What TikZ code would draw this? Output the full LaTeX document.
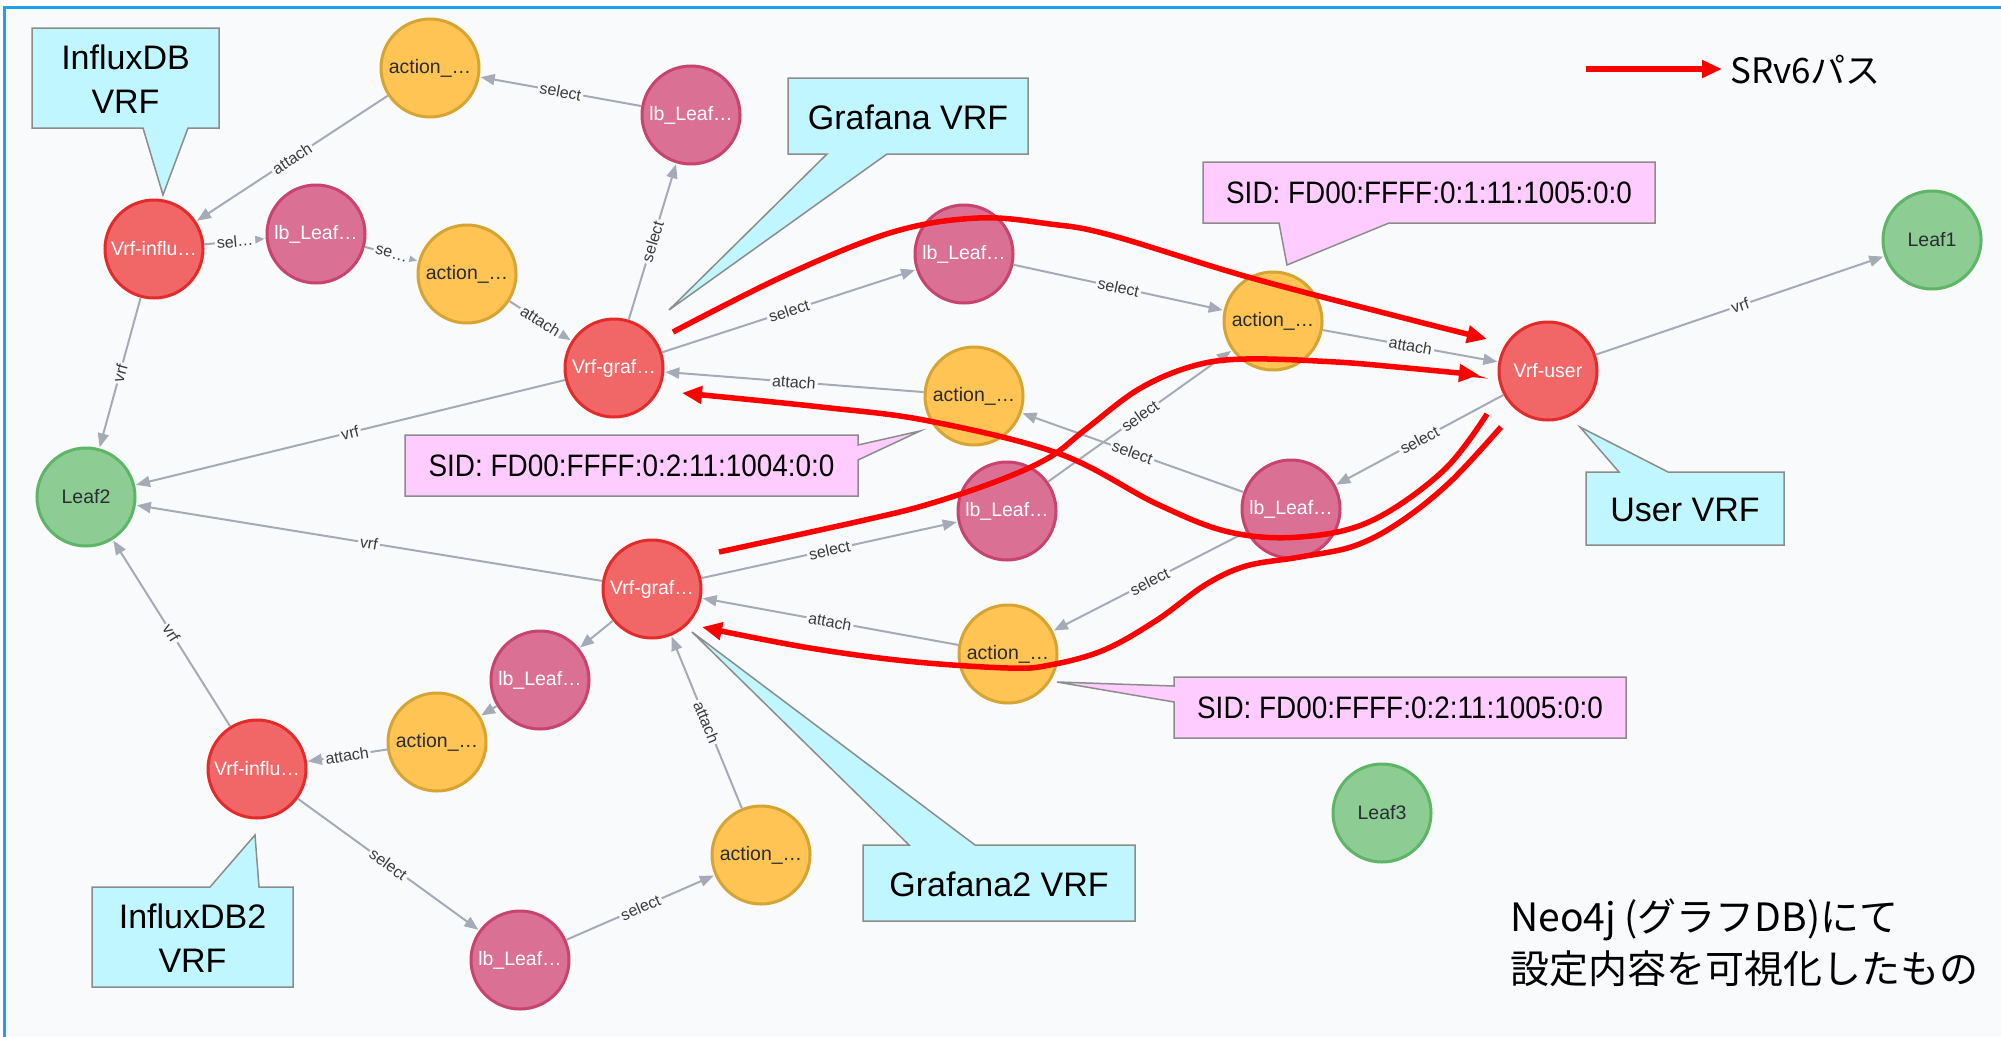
\documentclass[tikz,border=0pt]{standalone}
\usepackage{fontspec}
\setmainfont{Liberation Sans}
\newfontfamily\cjk{Noto Sans CJK JP}
\newfontfamily\sidfont{Liberation Sans}[FakeStretch=0.9]
\usetikzlibrary{arrows.meta}
\definecolor{bgc}{HTML}{F9FAFB}
\definecolor{framec}{HTML}{20A0E8}
\definecolor{actF}{HTML}{FFC454}
\definecolor{actD}{HTML}{D6A432}
\definecolor{lbF}{HTML}{DA7194}
\definecolor{lbD}{HTML}{C9436F}
\definecolor{vrfF}{HTML}{F16667}
\definecolor{vrfD}{HTML}{E52A2A}
\definecolor{leafF}{HTML}{8DCC93}
\definecolor{leafD}{HTML}{5DB665}
\definecolor{edgeC}{HTML}{A5ABB6}
\definecolor{lblC}{HTML}{3A3A3A}
\definecolor{cyanF}{HTML}{C0F6FF}
\definecolor{pinkF}{HTML}{FFCCFF}
\definecolor{boxD}{HTML}{8C8C8C}
\definecolor{darkT}{HTML}{2A2C34}
\tikzset{
  gnode/.style={circle, minimum size=98pt, inner sep=0pt, line width=3pt, font=\fontsize{19.5}{19.5}\selectfont},
  actn/.style={gnode, fill=actF, draw=actD, text=darkT},
  lbn/.style={gnode, fill=lbF, draw=lbD, text=white},
  vrfn/.style={gnode, fill=vrfF, draw=vrfD, text=white},
  leafn/.style={gnode, fill=leafF, draw=leafD, text=darkT},
  edge/.style={draw=edgeC, line width=2pt, -{Triangle[length=14pt,width=11pt]}, shorten >=1pt},
  elbl/.style={midway, sloped, fill=bgc, inner sep=2pt, text=lblC, font=\fontsize{16}{16}\selectfont},
  callC/.style={fill=cyanF, draw=boxD, line width=1.5pt, line join=miter},
  callP/.style={fill=pinkF, draw=boxD, line width=1.5pt, line join=miter},
  ctext/.style={align=center, inner sep=0pt, font=\fontsize{34}{44}\selectfont},
  stext/.style={inner sep=0pt, font=\sidfont\fontsize{31}{31}\selectfont},
  srv6/.style={draw=red, line width=5.5pt, -{Triangle[length=20pt,width=17pt]}},
}
\begin{document}
\begin{tikzpicture}[x=1pt,y=-1pt]
\useasboundingbox (0,0) rectangle (2001,1036);
\fill[white] (0,0) rectangle (2001,1036);
\fill[bgc] (4,7) rectangle (2001,1036);
\draw[framec, line width=3pt] (4,1040) -- (4,7) -- (2005,7);

% nodes
\node[actn] (A1) at (430,68) {action\_…};
\node[lbn] (LB1) at (691,115) {lb\_Leaf…};
\node[vrfn] (VI1) at (154,249) {Vrf-influ…};
\node[lbn] (LB2) at (316,234) {lb\_Leaf…};
\node[actn] (A2) at (467,274) {action\_…};
\node[vrfn] (VG1) at (614,368) {Vrf-graf…};
\node[leafn] (Leaf2) at (86,497) {Leaf2};
\node[lbn] (LB3) at (964,254) {lb\_Leaf…};
\node[actn] (A3) at (1273,321) {action\_…};
\node[vrfn] (VU) at (1548,371) {Vrf-user};
\node[leafn] (Leaf1) at (1932,240) {Leaf1};
\node[actn] (A4) at (974,396) {action\_…};
\node[lbn] (LB4) at (1007,511) {lb\_Leaf…};
\node[lbn] (LB6) at (1291,509) {lb\_Leaf…};
\node[vrfn] (VG2) at (652,589) {Vrf-graf…};
\node[actn] (A5) at (1008,654) {action\_…};
\node[lbn] (LB5) at (540,680) {lb\_Leaf…};
\node[actn] (A6) at (437,742) {action\_…};
\node[vrfn] (VI2) at (257,769) {Vrf-influ…};
\node[actn] (A7) at (761,855) {action\_…};
\node[lbn] (LB7) at (520,960) {lb\_Leaf…};
\node[leafn] (Leaf3) at (1382,813) {Leaf3};

% edges
\draw[edge] (LB1) -- node[elbl]{select} (A1);
\draw[edge] (A1) -- node[elbl]{attach} (VI1);
\draw[edge] (VI1) -- node[elbl]{sel…} (LB2);
\draw[edge] (LB2) -- node[elbl]{se…} (A2);
\draw[edge] (A2) -- node[elbl]{attach} (VG1);
\draw[edge] (VG1) -- node[elbl]{select} (LB1);
\draw[edge] (VI1) -- node[elbl]{vrf} (Leaf2);
\draw[edge] (VG1) -- node[elbl]{vrf} (Leaf2);
\draw[edge] (VG1) -- node[elbl]{select} (LB3);
\draw[edge] (LB3) -- node[elbl]{select} (A3);
\draw[edge] (A3) -- node[elbl]{attach} (VU);
\draw[edge] (VU) -- node[elbl]{vrf} (Leaf1);
\draw[edge] (A4) -- node[elbl]{attach} (VG1);
\draw[edge] (LB6) -- node[elbl]{select} (A4);
\draw[edge] (VU) -- node[elbl]{select} (LB6);
\draw[edge] (LB4) -- node[elbl]{select} (A3);
\draw[edge] (VG2) -- node[elbl]{vrf} (Leaf2);
\draw[edge] (VG2) -- node[elbl]{select} (LB4);
\draw[edge] (A5) -- node[elbl]{attach} (VG2);
\draw[edge] (LB6) -- node[elbl]{select} (A5);
\draw[edge] (VG2) -- (LB5);
\draw[edge] (LB5) -- (A6);
\draw[edge] (A6) -- node[elbl]{attach} (VI2);
\draw[edge] (VI2) -- node[elbl]{vrf} (Leaf2);
\draw[edge] (VI2) -- node[elbl]{select} (LB7);
\draw[edge] (LB7) -- node[elbl]{select} (A7);
\draw[edge] (A7) -- node[elbl]{attach} (VG2);

% callouts
\draw[callC] (32,28) -- (219,28) -- (219,128) -- (188,128) -- (163,195) -- (143,128) -- (32,128) -- cycle;
\node[ctext] (tInflux) at (125.5,79) {InfluxDB\\VRF};
\draw[callC] (788,78) -- (1028,78) -- (1028,154) -- (887,154) -- (669,310) -- (827,154) -- (788,154) -- cycle;
\node[ctext] (tGraf) at (908,117) {Grafana VRF};
\draw[callP] (1203,162) -- (1655,162) -- (1655,223) -- (1389,223) -- (1287,265) -- (1279,223) -- (1203,223) -- cycle;
\node[stext] (tSid1) at (1429,193) {SID: FD00:FFFF:0:1:11:1005:0:0};
\draw[callP] (405,435) -- (858,435) -- (858,445) -- (920,431) -- (858,460) -- (858,496) -- (405,496) -- cycle;
\node[stext] (tSid2) at (631.5,466) {SID: FD00:FFFF:0:2:11:1004:0:0};
\draw[callC] (1586,472) -- (1619,472) -- (1580,427) -- (1668,472) -- (1784,472) -- (1784,545) -- (1586,545) -- cycle;
\node[ctext] (tUser) at (1685,509.5) {User VRF};
\draw[callP] (1174,677) -- (1626,677) -- (1626,738) -- (1174,738) -- (1174,702) -- (1057,682) -- (1174,686) -- cycle;
\node[stext] (tSid3) at (1400,708) {SID: FD00:FFFF:0:2:11:1005:0:0};
\draw[callC] (863,845) -- (909,845) -- (692,632) -- (975,845) -- (1135,845) -- (1135,921) -- (863,921) -- cycle;
\node[ctext] (tGraf2) at (999,884) {Grafana2 VRF};
\draw[callC] (92,887) -- (210,887) -- (255,835) -- (259,887) -- (293,887) -- (293,987) -- (92,987) -- cycle;
\node[ctext] (tInflux2) at (192.5,938) {InfluxDB2\\VRF};

% SRv6 paths
\draw[srv6] plot[smooth, tension=0.6] coordinates {(673,332) (786,275) (893,232) (978,218) (1050,224) (1110,235) (1248,277) (1400,317) (1487,339)};
\draw[srv6] plot[smooth, tension=0.6] coordinates {(719,552) (865,520) (929,504) (1000,480) (1050,457) (1086,429) (1139,389) (1193,366) (1246,359) (1336,362) (1407,368) (1479,375)};
\draw[srv6] plot[smooth, tension=0.6] coordinates {(1487,414) (1443,471) (1371,521) (1300,537) (1229,532) (1157,504) (1060,454) (929,421) (821,407) (682,393)};
\draw[srv6] plot[smooth, tension=0.6] coordinates {(1501,427) (1450,482) (1400,522) (1354,546) (1300,557) (1246,566) (1205,585) (1157,620) (1104,650) (1050,665) (1008,668) (906,661) (804,647) (702,627)};

% legend
\coordinate (lgA) at (1586,69);
\coordinate (lgB) at (1722,69);
\draw[srv6] (lgA) -- (lgB);
\node[anchor=west, inner sep=0pt, font=\cjk\fontsize{35}{35}\selectfont] (lgT) at (1730,70) {SRv6パス};

% note
\node[anchor=north west, align=left, inner sep=0pt, font=\cjk\fontsize{39}{52}\selectfont] (note) at (1510,899) {Neo4j (グラフDB)にて\\設定内容を可視化したもの};
\end{tikzpicture}
\end{document}
